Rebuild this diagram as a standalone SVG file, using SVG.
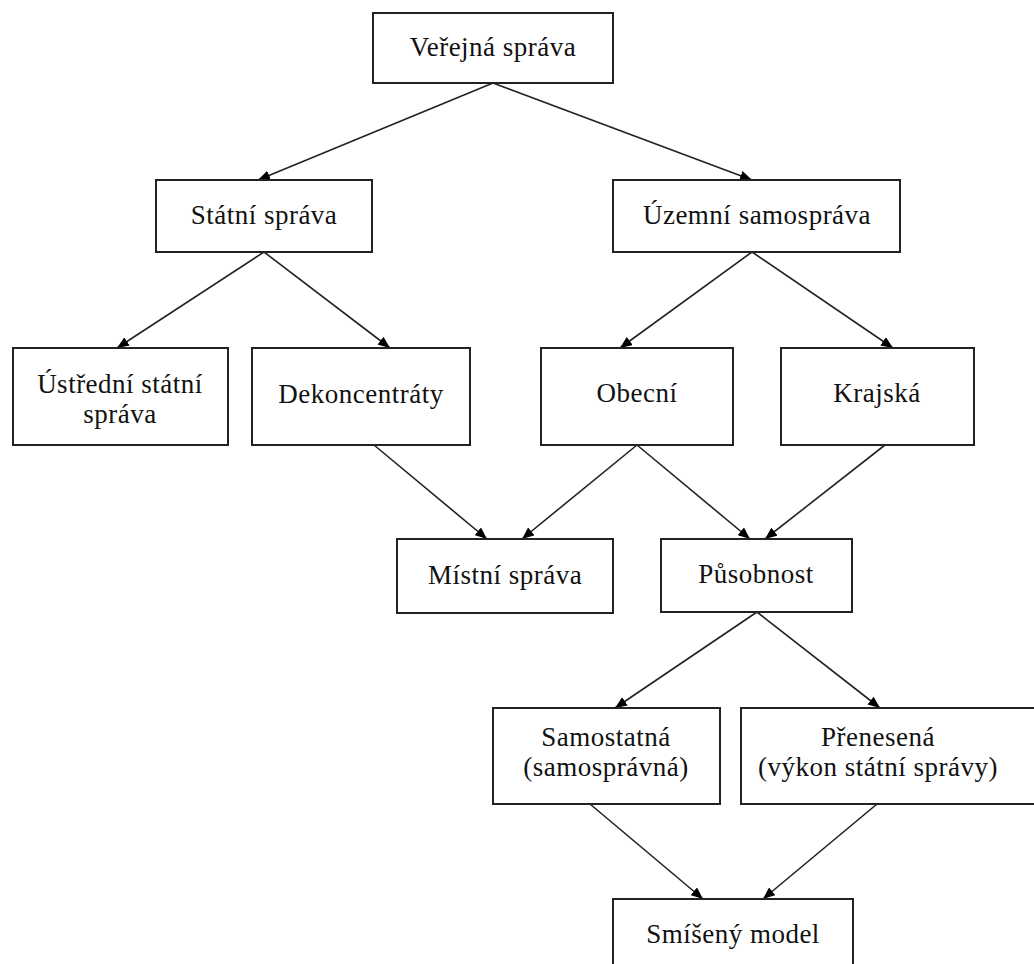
<svg xmlns="http://www.w3.org/2000/svg" width="1034" height="964" viewBox="0 0 1034 964">
<style>
.box{fill:#fff;stroke:#222;stroke-width:2}
.t{font-family:"Liberation Serif","Times New Roman",serif;font-size:27px;letter-spacing:0.5px;fill:#111;text-anchor:middle}
.c{stroke:#222;stroke-width:1.6;fill:none;marker-end:url(#ah)}
</style>
<defs>
<marker id="ah" viewBox="0 0 12 10" refX="12" refY="5" markerWidth="12" markerHeight="10" markerUnits="userSpaceOnUse" orient="auto">
<path d="M0,0 L12,5 L0,10 z" fill="#000"/>
</marker>
</defs>
<rect width="1034" height="964" fill="#fff"/>
<g id="connectors">
<line class="c" x1="493" y1="83" x2="258" y2="180"/>
<line class="c" x1="493" y1="83" x2="752" y2="180"/>
<line class="c" x1="264" y1="252" x2="117" y2="348"/>
<line class="c" x1="264" y1="252" x2="390" y2="348"/>
<line class="c" x1="752" y1="252" x2="620" y2="348"/>
<line class="c" x1="752" y1="252" x2="893" y2="348"/>
<line class="c" x1="374" y1="445" x2="487" y2="539"/>
<line class="c" x1="637" y1="445" x2="522" y2="539"/>
<line class="c" x1="637" y1="445" x2="750" y2="539"/>
<line class="c" x1="885" y1="445" x2="765" y2="539"/>
<line class="c" x1="757" y1="612" x2="615" y2="708"/>
<line class="c" x1="757" y1="612" x2="880" y2="708"/>
<line class="c" x1="590" y1="804" x2="703" y2="899"/>
<line class="c" x1="877" y1="804" x2="763" y2="899"/>
</g>
<g id="n1"><rect class="box" x="373" y="13" width="240" height="70"/><text class="t" x="493" y="56">Veřejná správa</text></g>
<g id="n2"><rect class="box" x="156" y="180" width="216" height="72"/><text class="t" x="264" y="224">Státní správa</text></g>
<g id="n3"><rect class="box" x="613" y="180" width="287" height="72"/><text class="t" x="757" y="224">Územní samospráva</text></g>
<g id="n4"><rect class="box" x="13" y="348" width="215" height="97"/><text class="t" x="120" y="393">Ústřední státní</text><text class="t" x="120" y="423">správa</text></g>
<g id="n5"><rect class="box" x="252" y="348" width="218" height="97"/><text class="t" x="361" y="403">Dekoncentráty</text></g>
<g id="n6"><rect class="box" x="541" y="348" width="192" height="97"/><text class="t" x="637" y="402">Obecní</text></g>
<g id="n7"><rect class="box" x="781" y="348" width="193" height="97"/><text class="t" x="877" y="402">Krajská</text></g>
<g id="n8"><rect class="box" x="397" y="539" width="216" height="74"/><text class="t" x="505" y="584">Místní správa</text></g>
<g id="n9"><rect class="box" x="661" y="539" width="191" height="73"/><text class="t" x="756" y="583">Působnost</text></g>
<g id="n10"><rect class="box" x="493" y="708" width="227" height="96"/><text class="t" x="606" y="746">Samostatná</text><text class="t" x="606" y="776">(samosprávná)</text></g>
<g id="n11"><rect class="box" x="741" y="708" width="300" height="96"/><text class="t" x="878" y="746">Přenesená</text><text class="t" x="878" y="776">(výkon státní správy)</text></g>
<g id="n12"><rect class="box" x="613" y="899" width="240" height="80"/><text class="t" x="733" y="943">Smíšený model</text></g>
</svg>
